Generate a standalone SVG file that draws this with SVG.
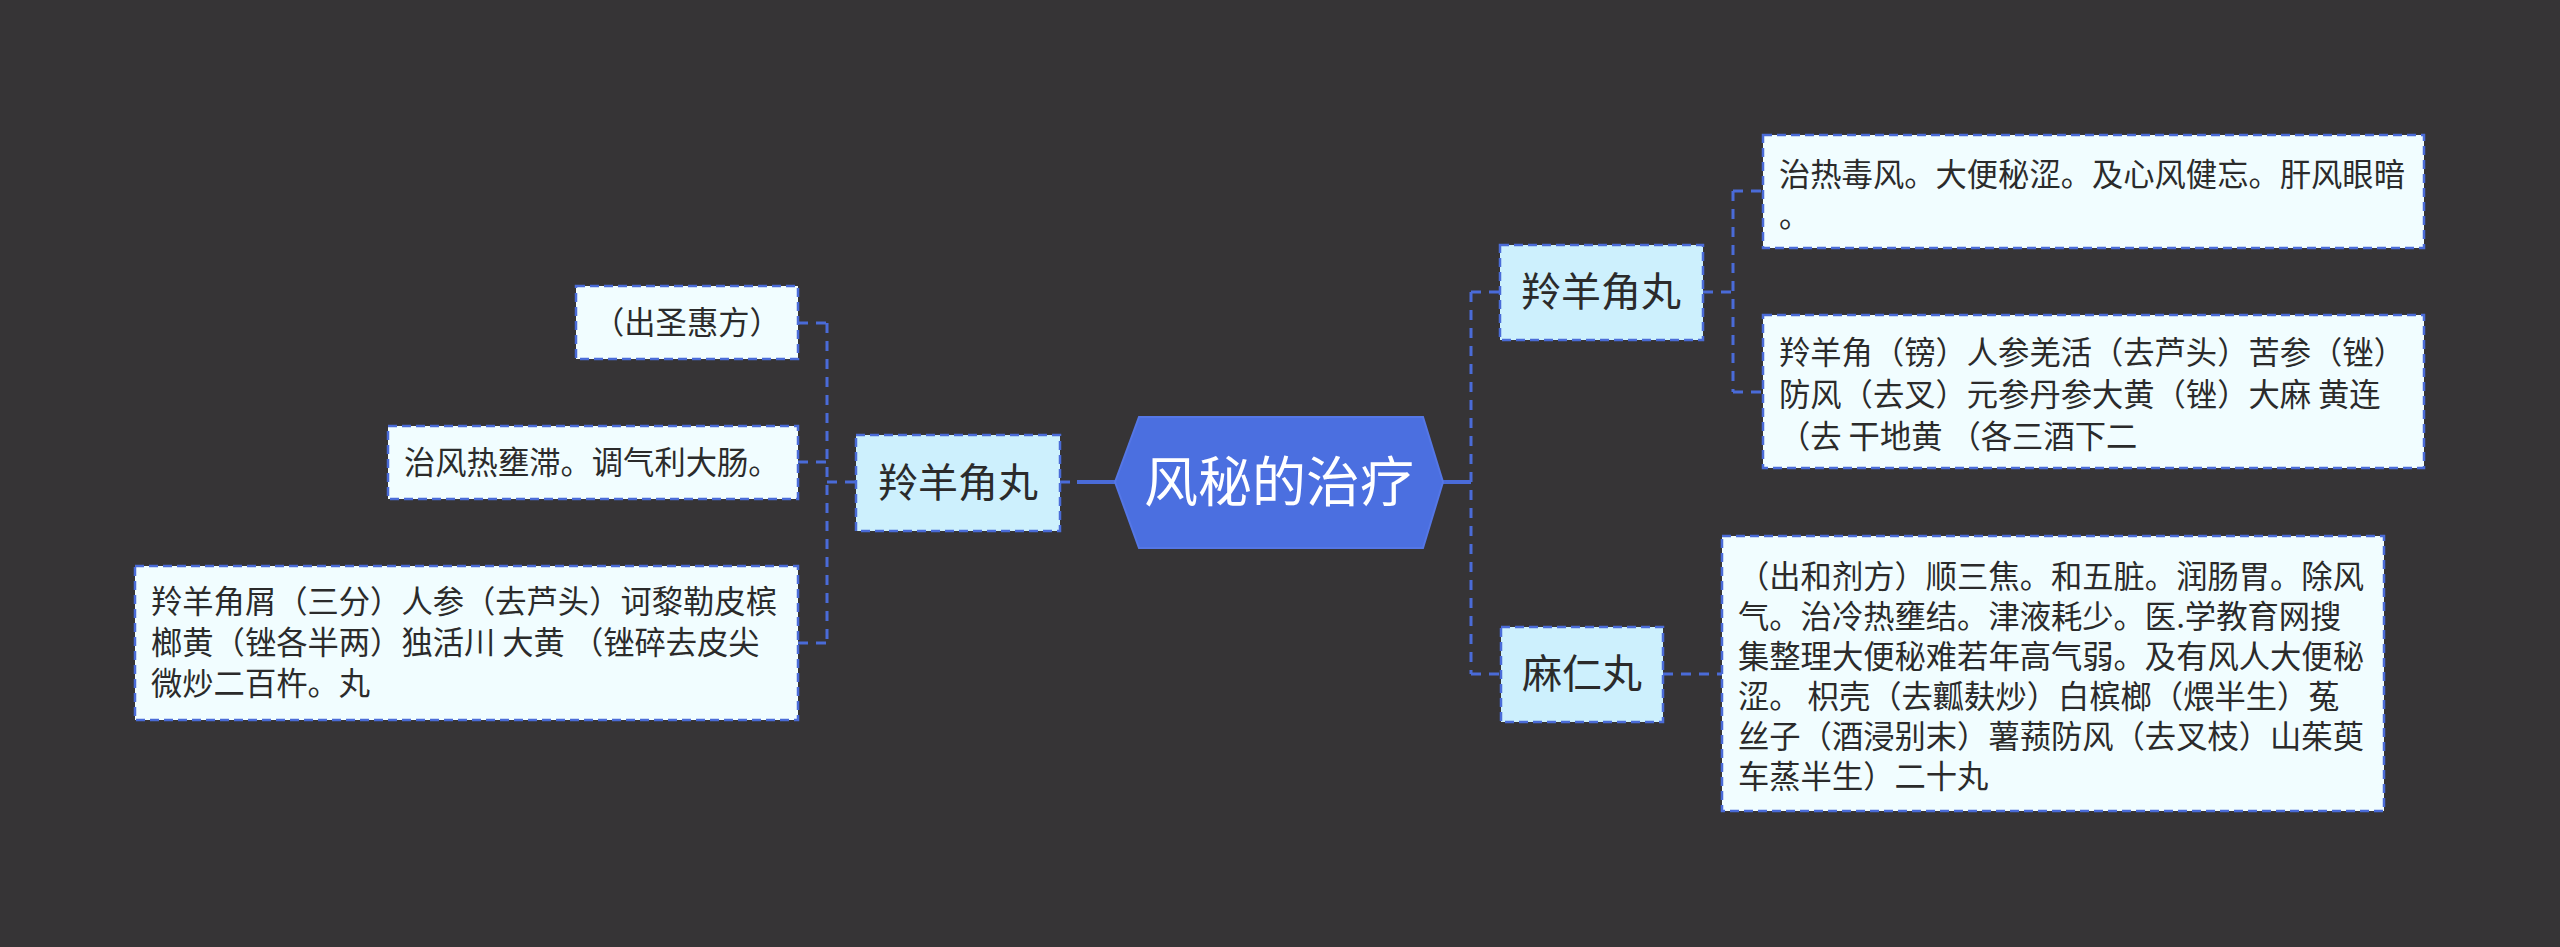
<svg xmlns="http://www.w3.org/2000/svg" width="2560" height="947" viewBox="0 0 2560 947">
<style>
.bg{fill:#363436}
.topic{fill:#cdf0fd;stroke:#4a6bd8;stroke-width:2.5;stroke-dasharray:9 5}
.leaf{fill:#f1fdff;stroke:#4a6bd8;stroke-width:2.5;stroke-dasharray:9 5}
.t{font-family:"Noto Sans CJK SC","Noto Sans",sans-serif;fill:#2b2b2b}
.s{font-size:31.3px}
.m{font-size:40px;text-anchor:middle}
.c{font-size:54px;text-anchor:middle;fill:#ffffff}
.dl{stroke:#4a6bd8;stroke-width:3;fill:none;stroke-dasharray:10 8}
.sl{stroke:#4a6bd8;stroke-width:4;fill:none}
</style>
<rect class="bg" x="0" y="0" width="2560" height="947"/>
<g id="connectors">
  <line class="sl" x1="1077" y1="482" x2="1118" y2="482"/>
  <line class="dl" x1="1060" y1="482" x2="1070" y2="482" style="stroke-dasharray:none"/>
  <line class="sl" x1="1441" y1="482" x2="1471" y2="482"/>
  <line class="dl" x1="1471" y1="292" x2="1471" y2="674"/>
  <line class="dl" x1="1471" y1="292" x2="1500" y2="292"/>
  <line class="dl" x1="1471" y1="674" x2="1500" y2="674"/>
  <line class="dl" x1="827" y1="323" x2="827" y2="643"/>
  <line class="dl" x1="827" y1="482" x2="855" y2="482"/>
  <line class="dl" x1="798" y1="323" x2="827" y2="323"/>
  <line class="dl" x1="798" y1="462" x2="827" y2="462"/>
  <line class="dl" x1="798" y1="643" x2="827" y2="643"/>
  <line class="dl" x1="1733" y1="191" x2="1733" y2="392"/>
  <line class="dl" x1="1703" y1="292" x2="1733" y2="292"/>
  <line class="dl" x1="1733" y1="191" x2="1763" y2="191"/>
  <line class="dl" x1="1733" y1="392" x2="1763" y2="392"/>
  <line class="dl" x1="1663" y1="674" x2="1722" y2="674"/>
</g>
<g id="root">
  <polygon points="1115,482 1139,417 1423,417 1443,482 1423,548 1139,548" fill="#4b6fe0" stroke="#5577e6" stroke-width="2"/>
  <text class="t c" x="1279" y="502">风秘的治疗</text>
</g>
<g id="left-topic">
  <rect class="topic" x="856" y="435" width="204" height="96"/>
  <text class="t m" x="958" y="497">羚羊角丸</text>
</g>
<g id="left-leaf-1">
  <rect class="leaf" x="576" y="286" width="222" height="73"/>
  <text class="t s" x="593" y="334">（出圣惠方）</text>
</g>
<g id="left-leaf-2">
  <rect class="leaf" x="388" y="426" width="410" height="73"/>
  <text class="t s" x="404" y="474">治风热壅滞。调气利大肠。</text>
</g>
<g id="left-leaf-3">
  <rect class="leaf" x="135" y="566" width="663" height="154"/>
  <text class="t s" x="151" y="613">羚羊角屑（三分）人参（去芦头）诃黎勒皮槟</text>
  <text class="t s" x="151" y="654">榔黄（锉各半两）独活川 大黄 （锉碎去皮尖</text>
  <text class="t s" x="151" y="695">微炒二百杵。丸</text>
</g>
<g id="right-topic-1">
  <rect class="topic" x="1500" y="245" width="203" height="95"/>
  <text class="t m" x="1601" y="306">羚羊角丸</text>
</g>
<g id="right-leaf-1">
  <rect class="leaf" x="1763" y="135" width="661" height="113"/>
  <text class="t s" x="1779" y="186">治热毒风。大便秘涩。及心风健忘。肝风眼暗</text>
  <text class="t s" x="1779" y="227">。</text>
</g>
<g id="right-leaf-2">
  <rect class="leaf" x="1763" y="315" width="661" height="153"/>
  <text class="t s" x="1779" y="364">羚羊角（镑）人参羌活（去芦头）苦参（锉）</text>
  <text class="t s" x="1779" y="406">防风（去叉）元参丹参大黄（锉）大麻 黄连</text>
  <text class="t s" x="1779" y="448">（去 干地黄 （各三酒下二</text>
</g>
<g id="right-topic-2">
  <rect class="topic" x="1501" y="627" width="162" height="95"/>
  <text class="t m" x="1582" y="688">麻仁丸</text>
</g>
<g id="right-leaf-3">
  <rect class="leaf" x="1722" y="536" width="662" height="275"/>
  <text class="t s" x="1738" y="588">（出和剂方）顺三焦。和五脏。润肠胃。除风</text>
  <text class="t s" x="1738" y="628">气。治冷热壅结。津液耗少。医.学教育网搜</text>
  <text class="t s" x="1738" y="668">集整理大便秘难若年高气弱。及有风人大便秘</text>
  <text class="t s" x="1738" y="708">涩。 枳壳（去瓤麸炒）白槟榔（煨半生）菟</text>
  <text class="t s" x="1738" y="748">丝子（酒浸别末）薯蓣防风（去叉枝）山茱萸</text>
  <text class="t s" x="1738" y="788">车蒸半生）二十丸</text>
</g>
</svg>
